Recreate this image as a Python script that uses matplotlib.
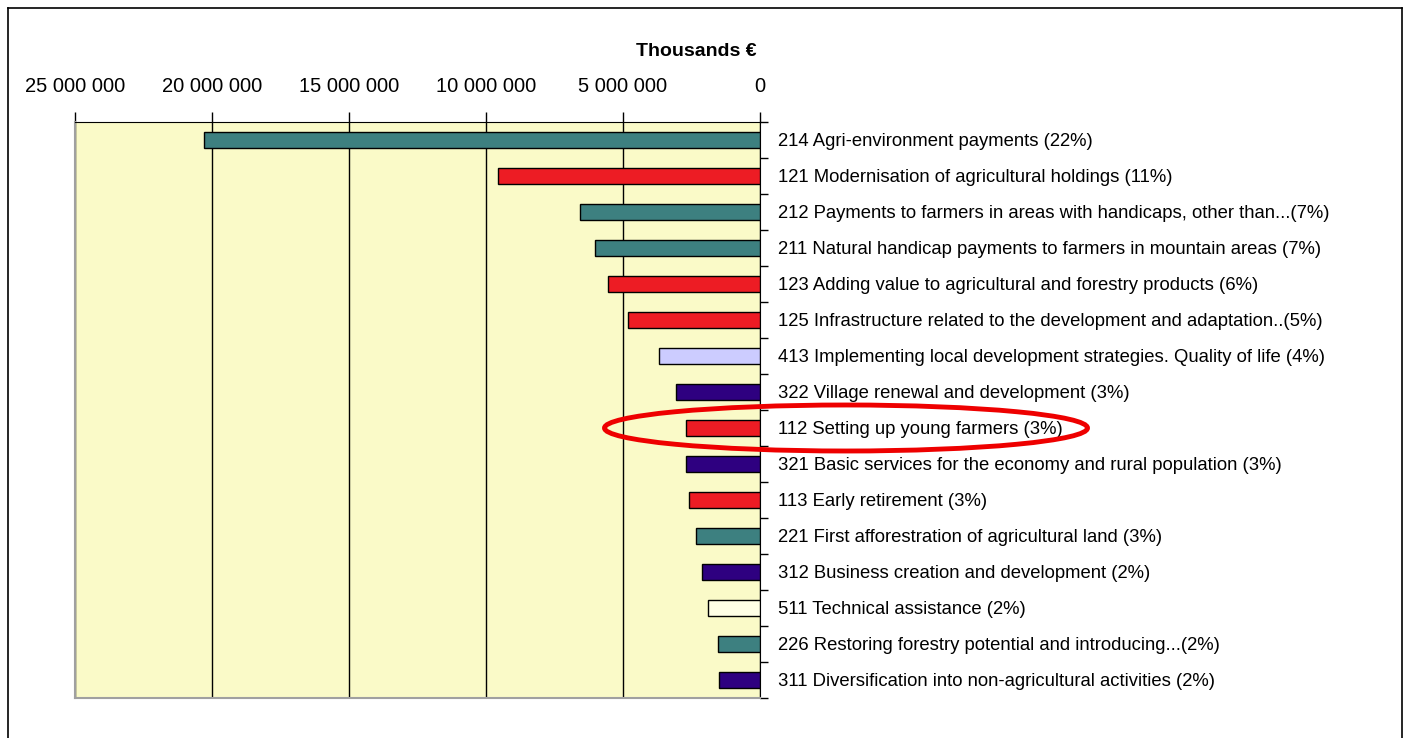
import numpy as np
import matplotlib
matplotlib.use('Agg')
from matplotlib import pyplot as plt
from matplotlib.patches import Ellipse
from matplotlib.lines import Line2D
from matplotlib.ticker import FuncFormatter, FixedLocator

# Measures, top to bottom (thousands EUR)
labels = [
    '214 Agri-environment payments (22%)',
    '121 Modernisation of agricultural holdings (11%)',
    '212 Payments to farmers in areas with handicaps, other than...(7%)',
    '211 Natural handicap payments to farmers in mountain areas (7%)',
    '123 Adding value to agricultural and forestry products (6%)',
    '125 Infrastructure related to the development and adaptation..(5%)',
    '413 Implementing local development strategies. Quality of life (4%)',
    '322 Village renewal and development (3%)',
    '112 Setting up young farmers (3%)',
    '321 Basic services for the economy and rural population (3%)',
    '113 Early retirement (3%)',
    '221 First afforestration of agricultural land (3%)',
    '312 Business creation and development (2%)',
    '511 Technical assistance (2%)',
    '226 Restoring forestry potential and introducing...(2%)',
    '311 Diversification into non-agricultural activities (2%)',
]
values = [20300000, 9580000, 6560000, 6010000, 5540000, 4810000, 3680000, 3060000,
          2700000, 2700000, 2590000, 2330000, 2110000, 1900000, 1530000, 1490000]
axis_groups = ['env', 'comp', 'env', 'env', 'comp', 'comp', 'leader', 'rural',
               'comp', 'rural', 'comp', 'env', 'rural', 'ta', 'env', 'rural']
highlight = '112 Setting up young farmers (3%)'

group_colors = {'env': '#3d8080', 'comp': '#ed1c24', 'leader': '#ccccff',
                'rural': '#2e0080', 'ta': '#ffffe6'}

fig = plt.figure(figsize=(14.12, 7.38), dpi=100)
ax = fig.add_axes([75/1412, 1 - 698/738, (760 - 75)/1412, (698 - 122)/738])
ax.set_facecolor('#fafac8')

y = np.arange(len(values))
ax.barh(y, values, height=0.45, color=[group_colors[g] for g in axis_groups],
        edgecolor='black', linewidth=1, zorder=3)

ax.set_xlim(25e6, 0)
ax.set_ylim(len(values) - 0.5, -0.5)

# x axis on top
ax.xaxis.tick_top()
ax.set_xticks(np.arange(0, 25e6 + 1, 5e6))
ax.xaxis.set_major_formatter(FuncFormatter(lambda v, p: f'{int(v):,}'.replace(',', ' ')))
ax.tick_params(axis='x', length=7, width=1, pad=12, labelsize=14.5)
for t in ax.get_xticklabels():
    t.set_family('Liberation Sans')
ax.grid(axis='x', color='black', linewidth=1, zorder=1)

# category labels on the right
ax.yaxis.tick_right()
ax.set_yticks(y)
ax.set_yticklabels(labels, family='Liberation Sans', fontsize=13.3)
ax.tick_params(axis='y', which='major', length=0, pad=13)
ax.yaxis.set_minor_locator(FixedLocator(np.arange(-0.5, len(values), 1)))
ax.tick_params(axis='y', which='minor', length=6, width=1, right=True, left=False)

ax.spines['left'].set_color('#a0a0a0')
ax.spines['bottom'].set_color('#a0a0a0')
ax.spines['left'].set_linewidth(1.5)
ax.spines['bottom'].set_linewidth(1.5)

fig.text(757/1412, 1 - 52/738, 'Thousands €', ha='right', va='center',
         fontsize=14, fontweight='bold', family='Liberation Sans')

# red ellipse around the highlighted measure
hi = labels.index(highlight)
ey = ax.transData.transform((0, hi))[1] / fig.bbox.height
fig.patches.append(Ellipse((846/1412, ey), 483/1412, 46/738, fill=False,
                           edgecolor='#ee0000', linewidth=3.5,
                           transform=fig.transFigure))

# page frame
for xs, ys in [([8/1412, 8/1412], [0, 1 - 8/738]),
               ([8/1412, 1402/1412], [1 - 8/738, 1 - 8/738]),
               ([1402/1412, 1402/1412], [0, 1 - 8/738])]:
    fig.add_artist(Line2D(xs, ys, color='black', linewidth=1.2, transform=fig.transFigure))

plt.savefig('out.png', dpi=100)
